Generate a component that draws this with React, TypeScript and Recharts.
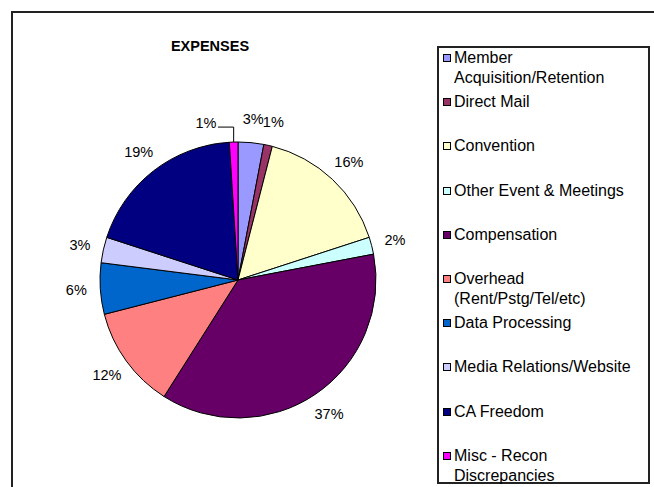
import { PieChart, Pie, Cell, Legend } from "recharts";

// categories, in the order Excel draws them (clockwise from 12 o'clock)
const categories = [
  "Member\nAcquisition/Retention",
  "Direct Mail",
  "Convention",
  "Other Event & Meetings",
  "Compensation",
  "Overhead\n(Rent/Pstg/Tel/etc)",
  "Data Processing",
  "Media Relations/Website",
  "CA Freedom",
  "Misc - Recon\nDiscrepancies",
];

// share of expenses, percent
const values = [3, 1, 16, 2, 37, 12, 6, 3, 19, 1];

const colors = [
  "#9999ff",
  "#993366",
  "#ffffcc",
  "#ccffff",
  "#660066",
  "#ff8080",
  "#0066cc",
  "#ccccff",
  "#000080",
  "#ff00ff",
];

const data = categories.map((name, i) => ({ name, value: values[i] }));

const RAD = Math.PI / 180;
const FONT = "'Liberation Sans', Arial, sans-serif";

// percent labels outside the pie; the tiny last slice gets a leader line like Excel
const renderLabel = (props: any) => {
  const { cx, cy, midAngle, outerRadius, index, value } = props;
  const r = outerRadius + 24;
  const cos = Math.cos(-midAngle * RAD);
  const sin = Math.sin(-midAngle * RAD);
  let x = cx + r * cos;
  let y = cy + r * sin;
  const isLast = index === values.length - 1;
  if (isLast) {
    const ex = cx + outerRadius * cos;
    const ey = cy + outerRadius * sin;
    x = x - 27;
    y = y + 5;
    return (
      <g>
        <polyline
          points={`${x + 12},${y + 4} ${ex},${y + 4} ${ex},${ey}`}
          fill="none"
          stroke="#000"
          strokeWidth={1}
        />
        <text x={x} y={y} textAnchor="middle" dominantBaseline="central" fontSize={14.5} fontFamily={FONT} fill="#000">
          {value}%
        </text>
      </g>
    );
  }
  return (
    <text x={x} y={y} textAnchor="middle" dominantBaseline="central" fontSize={14.5} fontFamily={FONT} fill="#000">
      {value}%
    </text>
  );
};

const LegendBox = () => (
  <div
    style={{
      width: 213,
      height: 438,
      border: "2px solid #222",
      boxSizing: "border-box",
      background: "#fff",
      fontFamily: FONT,
      fontSize: 16,
      color: "#000",
    }}
  >
    {categories.map((name, i) => (
      <div key={name} style={{ display: "flex", alignItems: "flex-start", height: 44.2 }}>
        <span
          style={{
            width: 6,
            height: 6,
            marginLeft: 4,
            marginTop: 6,
            marginRight: 3,
            border: "1px solid #000",
            background: colors[i],
            flexShrink: 0,
          }}
        />
        <span style={{ whiteSpace: "pre-line", lineHeight: "20px" }}>{name}</span>
      </div>
    ))}
  </div>
);

export default function App() {
  return (
    <div style={{ position: "absolute", left: 0, top: 0, width: 654, height: 487, overflow: "hidden", background: "#fff" }}>
      <div
        style={{
          position: "absolute",
          left: 11,
          top: 11,
          width: 700,
          height: 520,
          border: "2px solid #222",
        }}
      />
      <div
        style={{
          position: "absolute",
          left: 140,
          top: 36,
          width: 140,
          textAlign: "center",
          fontFamily: FONT,
          fontWeight: "bold",
          fontSize: 14.5,
          lineHeight: "20px",
        }}
      >
        EXPENSES
      </div>
      <div style={{ position: "absolute", left: 0, top: 0 }}>
        <PieChart width={654} height={487} margin={{ top: 0, right: 0, bottom: 0, left: 0 }}>
          <Pie
            data={data}
            dataKey="value"
            nameKey="name"
            cx={238}
            cy={280}
            outerRadius={138}
            startAngle={90}
            endAngle={-270}
            stroke="#000"
            strokeWidth={1}
            label={renderLabel}
            labelLine={false}
            isAnimationActive={false}
          >
            {data.map((d, i) => (
              <Cell key={d.name} fill={colors[i]} />
            ))}
          </Pie>
          <Legend
            content={() => <LegendBox />}
            wrapperStyle={{ position: "absolute", left: 437, top: 46, width: 213, height: 438, bottom: "auto" }}
          />
        </PieChart>
      </div>
    </div>
  );
}
